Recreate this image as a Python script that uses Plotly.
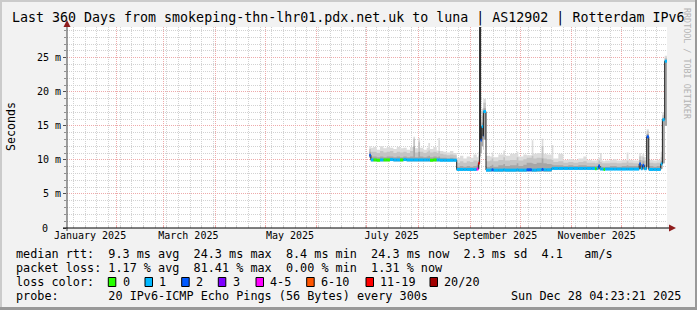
import plotly.graph_objects as go

# ---------------- data ----------------
title_text = "Last 360 Days from smokeping-thn-lhr01.pdx.net.uk to luna | AS12902 | Rotterdam IPv6"
start_time = "2025-01-02 04:23:21"
end_time = "2025-12-28 04:23:21"

times = [
    "2025-07-02 14:00", "2025-07-03 12:00", "2025-07-05", "2025-07-07", "2025-07-09",
    "2025-07-11", "2025-07-13", "2025-07-15", "2025-07-17", "2025-07-19",
    "2025-07-21", "2025-07-23", "2025-07-25", "2025-07-27", "2025-07-29",
    "2025-07-30", "2025-08-01", "2025-08-02", "2025-08-04", "2025-08-06",
    "2025-08-07", "2025-08-08", "2025-08-10", "2025-08-12", "2025-08-13",
    "2025-08-14", "2025-08-16", "2025-08-18", "2025-08-20", "2025-08-22",
    "2025-08-24", "2025-08-26", "2025-08-28", "2025-08-30", "2025-09-01",
    "2025-09-03", "2025-09-05", "2025-09-06", "2025-09-06 18:00", "2025-09-07 08:00",
    "2025-09-08", "2025-09-08 20:00", "2025-09-09", "2025-09-10 14:00", "2025-09-13",
    "2025-09-14", "2025-09-15", "2025-09-18", "2025-09-21", "2025-09-22",
    "2025-09-25", "2025-09-29", "2025-09-30", "2025-10-03", "2025-10-05",
    "2025-10-08", "2025-10-09", "2025-10-11", "2025-10-14", "2025-10-15",
    "2025-10-17", "2025-10-20", "2025-10-21", "2025-10-24", "2025-10-27",
    "2025-10-30", "2025-11-02", "2025-11-05", "2025-11-08", "2025-11-10",
    "2025-11-13", "2025-11-15", "2025-11-16", "2025-11-17", "2025-11-18",
    "2025-11-19", "2025-11-20", "2025-11-21", "2025-11-24", "2025-11-26",
    "2025-11-28", "2025-12-01", "2025-12-04", "2025-12-05", "2025-12-08",
    "2025-12-11 12:00", "2025-12-12 12:00", "2025-12-13 12:00", "2025-12-14 12:00", "2025-12-16",
    "2025-12-17 06:00", "2025-12-20", "2025-12-22", "2025-12-24 10:00", "2025-12-25 10:00",
    "2025-12-26 19:00", "2025-12-28 04:23:21",
]
median_ms = [
    10.7, 10.0, 10.0, 9.95, 10.0, 10.0, 10.0, 10.05, 10.0, 10.0,
    10.0, 10.05, 10.0, 10.0, 10.0, 10.0, 10.0, 10.0, 10.0, 10.0,
    10.0, 9.95, 10.0, 10.0, 10.0, 9.95, 9.95, 9.95, 9.95, 9.95,
    8.6, 8.6, 8.6, 8.6, 8.6, 8.6, 8.65, 9.5, 32.0, 12.9,
    14.9, 13.5, 17.1, 8.5, 8.5, 8.55, 8.5, 8.5, 8.55, 8.5,
    8.5, 8.55, 8.5, 8.5, 8.55, 8.5, 8.5, 8.55, 8.6, 8.55,
    8.55, 8.75, 8.75, 8.75, 8.75, 8.75, 8.75, 8.75, 8.75, 8.75,
    8.75, 8.7, 8.75, 9.1, 8.65, 8.65, 8.6, 8.65, 8.65, 8.65,
    8.65, 8.65, 8.65, 8.65, 8.65, 9.4, 8.7, 9.2, 8.7, 13.4,
    8.6, 8.6, 8.6, 9.4, 15.9, 24.5, 24.5,
]
loss_idx = [
    2, 1, 0, 0, 1, 0, 0, 1, 1, 1,
    0, 1, 1, 1, 1, 1, 1, 1, 1, 1,
    1, 0, 0, 1, 1, 1, 1, 1, 1, 1,
    1, 1, 1, 1, 1, 1, 4, 6, 2, 2,
    1, 2, 1, 1, 1, 2, 1, 1, 1, 1,
    1, 1, 1, 1, 2, 1, 1, 1, 2, 1,
    1, 1, 1, 1, 1, 1, 1, 1, 1, 1,
    1, 0, 1, 2, 1, 1, 0, 1, 1, 1,
    1, 1, 1, 1, 1, 2, 1, 2, 1, 2,
    1, 1, 1, 1, 1, 1, 1,
]
ping_min_ms = [
    10.3, 9.8, 9.8, 9.8, 9.8, 9.8, 9.8, 9.85, 9.8, 9.8,
    9.8, 9.85, 9.8, 9.8, 9.8, 9.8, 9.8, 9.8, 9.8, 9.8,
    9.8, 9.8, 9.8, 9.8, 9.8, 9.8, 9.8, 9.8, 9.8, 9.8,
    8.45, 8.45, 8.45, 8.45, 8.45, 8.45, 8.5, 8.7, 10.5, 11.0,
    12.0, 11.5, 13.0, 8.3, 8.3, 8.35, 8.3, 8.3, 8.3, 8.3,
    8.3, 8.3, 8.3, 8.3, 8.35, 8.3, 8.3, 8.3, 8.35, 8.3,
    8.3, 8.55, 8.55, 8.55, 8.55, 8.55, 8.55, 8.55, 8.55, 8.55,
    8.55, 8.55, 8.55, 8.6, 8.5, 8.5, 8.5, 8.5, 8.5, 8.5,
    8.5, 8.5, 8.5, 8.5, 8.5, 8.7, 8.5, 8.6, 8.5, 9.0,
    8.45, 8.45, 8.45, 8.7, 9.5, 15.0, 15.0,
]
ping_p75_ms = [
    11.2, 10.5, 10.5, 10.4, 10.5, 10.4, 10.5, 10.5, 10.4, 10.5,
    10.4, 10.5, 10.4, 10.5, 12.0, 10.4, 11.2, 10.5, 10.4, 10.5,
    10.6, 10.4, 10.5, 10.4, 10.5, 10.3, 10.3, 10.2, 10.3, 10.2,
    9.0, 9.1, 9.0, 9.1, 9.0, 9.1, 9.2, 10.0, 14.0, 13.8,
    15.5, 14.5, 17.6, 9.0, 9.1, 9.3, 9.0, 9.2, 9.4, 9.1,
    9.2, 9.5, 9.1, 9.3, 9.6, 9.5, 9.4, 9.6, 10.2, 9.5,
    9.4, 9.3, 9.2, 9.2, 9.1, 9.2, 9.1, 9.2, 9.2, 9.1,
    9.1, 9.1, 9.1, 9.4, 9.1, 9.0, 9.0, 9.0, 9.1, 9.1,
    9.0, 9.1, 9.2, 9.1, 9.1, 10.0, 9.3, 9.8, 9.3, 13.8,
    9.1, 9.0, 9.1, 9.8, 16.2, 24.7, 24.7,
]
ping_p90_ms = [
    11.6, 11.2, 11.2, 11.0, 11.3, 11.1, 11.2, 11.3, 11.0, 11.2,
    11.1, 11.2, 11.0, 11.3, 13.1, 11.1, 12.6, 11.2, 11.0, 11.2,
    11.4, 11.1, 11.2, 11.0, 11.3, 10.9, 10.8, 10.7, 10.8, 10.7,
    9.6, 9.8, 9.6, 9.8, 9.7, 9.9, 9.8, 10.6, 16.0, 15.0,
    16.5, 15.5, 18.4, 9.8, 9.9, 10.2, 9.8, 10.0, 10.4, 9.9,
    10.0, 10.4, 9.9, 10.1, 10.3, 10.6, 10.2, 10.3, 12.0, 10.2,
    10.1, 10.0, 9.7, 9.8, 9.6, 9.7, 9.6, 9.7, 9.8, 9.6,
    9.6, 9.5, 9.6, 9.9, 9.7, 9.5, 9.5, 9.5, 9.6, 9.6,
    9.5, 9.6, 9.8, 9.6, 9.5, 10.5, 10.0, 10.4, 9.9, 14.2,
    9.6, 9.5, 9.6, 10.4, 16.6, 25.0, 25.0,
]
ping_max_ms = [
    12.0, 11.8, 11.9, 11.5, 12.0, 11.7, 11.9, 11.8, 11.6, 11.9,
    11.7, 11.8, 11.5, 11.9, 13.4, 11.7, 13.2, 11.8, 11.5, 11.8,
    12.5, 11.6, 11.9, 11.4, 13.2, 11.3, 11.2, 11.1, 11.3, 11.0,
    10.3, 10.6, 10.2, 10.5, 10.3, 10.8, 10.4, 11.2, 17.5, 16.0,
    17.5, 16.5, 19.0, 10.6, 10.5, 11.1, 10.4, 10.8, 11.4, 10.6,
    10.9, 11.2, 10.5, 10.8, 10.7, 12.9, 10.9, 11.0, 13.1, 10.9,
    10.8, 12.2, 10.2, 10.9, 10.0, 10.1, 10.0, 10.2, 10.5, 10.0,
    9.9, 9.9, 10.0, 10.3, 11.0, 9.9, 9.8, 9.9, 10.0, 10.1,
    9.9, 10.0, 11.1, 10.0, 9.9, 11.0, 10.6, 10.9, 10.4, 14.5,
    10.0, 9.9, 10.0, 11.2, 17.0, 25.3, 25.3,
]

loss_labels = ["0", "1", "2", "3", "4-5", "6-10", "11-19", "20/20"]
loss_colors = ["#26ff00", "#00b8ff", "#0059ff", "#7e00ff", "#ff00ff", "#ff5500", "#ff0000", "#a10000"]

y_tick_vals = [0, 5, 10, 15, 20, 25]
y_tick_text = ["0", "5 m", "10 m", "15 m", "20 m", "25 m"]
x_tick_dates = ["2025-01-16", "2025-03-16", "2025-05-16", "2025-07-16", "2025-09-16", "2025-11-16"]
x_tick_text = ["January 2025", "March 2025", "May 2025", "July 2025", "September 2025", "November 2025"]

stats_lines = [
    "median rtt:  9.3 ms avg  24.3 ms max  8.4 ms min  24.3 ms now  2.3 ms sd  4.1   am/s",
    "packet loss: 1.17 % avg  81.41 % max  0.00 % min  1.31 % now",
    "loss color:",
    "probe:       20 IPv6-ICMP Echo Pings (56 Bytes) every 300s",
]
stamp_text = "Sun Dec 28 04:23:21 2025"
y_title = "Seconds"
watermark = "RRDTOOL / TOBI OETIKER"

# ---------------- layout helpers ----------------
W, H = 697, 310
ML, MR, MT, MB = 67, 30, 27, 82
PW, PH = W - ML - MR, H - MT - MB
MONO = "DejaVu Sans Mono"
GRID = "#d2d2d2"
MGRID = "#eeaaaa"
DOTS = "1px,1px"


def px(x):
    return (x - ML) / PW


def py(y):
    return (H - MB - y) / PH


def nb(s):
    return s.replace(" ", "\u00a0")


fig = go.Figure()

# smoke (ping distribution) as stacked grey bands
for upper, col in [(ping_max_ms, "#dcdcdc"), (ping_p90_ms, "#c4c4c4"), (ping_p75_ms, "#a6a6a6")]:
    fig.add_trace(go.Scatter(x=times, y=ping_min_ms, mode="lines", line=dict(width=0, shape="hv"),
                             hoverinfo="skip", showlegend=False))
    fig.add_trace(go.Scatter(x=times, y=upper, mode="lines", line=dict(width=0, shape="hv"),
                             fill="tonexty", fillcolor=col, hoverinfo="skip", showlegend=False))

# median line (thin dark)
fig.add_trace(go.Scatter(x=times, y=median_ms, mode="lines",
                         line=dict(color="#202020", width=1, shape="hv"),
                         hoverinfo="skip", showlegend=False))

# median coloured by loss
for c, col in enumerate(loss_colors):
    xs, ys = [], []
    for i in range(len(times) - 1):
        if loss_idx[i] == c:
            xs += [times[i], times[i + 1], None]
            ys += [median_ms[i], median_ms[i], None]
    if xs:
        fig.add_trace(go.Scatter(x=xs, y=ys, mode="lines", line=dict(color=col, width=3),
                                 hoverinfo="skip", showlegend=False, connectgaps=False))

# carrier trace for label axis
fig.add_trace(go.Scatter(x=x_tick_dates, y=[None] * len(x_tick_dates), xaxis="x2",
                         mode="markers", hoverinfo="skip", showlegend=False))

# the "0" label sits in the digit column (rrdtool pads it); it is placed separately below
axis_tick_text = ["" if v == 0 else nb(t) for v, t in zip(y_tick_vals, y_tick_text)]

fig.update_layout(
    width=W, height=H,
    margin=dict(l=ML, r=MR, t=MT, b=MB, pad=0),
    paper_bgcolor="#f2f2f2", plot_bgcolor="#ffffff",
    showlegend=False,
    xaxis=dict(type="date", range=[start_time, end_time], tick0="2025-01-01", dtick="M1",
               showgrid=True, gridcolor=MGRID, griddash=DOTS, gridwidth=1,
               showticklabels=False, ticks="inside", ticklen=3, tickcolor=MGRID,
               showline=False, zeroline=False, fixedrange=True,
               minor=dict(dtick=7 * 86400000, tick0="2025-01-06", showgrid=True, gridcolor=GRID,
                          griddash=DOTS, ticks="inside", ticklen=2, tickcolor=GRID)),
    xaxis2=dict(type="date", overlaying="x", anchor="y", side="bottom",
                range=[start_time, end_time], tickmode="array", tickvals=x_tick_dates,
                ticktext=x_tick_text, showgrid=False, ticks="", zeroline=False, showline=False,
                tickfont=dict(family=MONO, size=10, color="#000000"), fixedrange=True),
    yaxis=dict(range=[0, 29.52], tickmode="array", tickvals=y_tick_vals,
               ticktext=axis_tick_text,
               showgrid=True, gridcolor=MGRID, griddash=DOTS, gridwidth=1,
               ticks="outside", ticklen=3, tickcolor="#505050",
               tickfont=dict(family=MONO, size=10, color="#000000"),
               zeroline=False, showline=False, fixedrange=True,
               minor=dict(tick0=0, dtick=1, showgrid=True, gridcolor=GRID, griddash=DOTS,
                          ticks="outside", ticklen=2, tickcolor="#909090")),
)

shapes = []
# frame shading
shapes.append(dict(type="rect", xref="paper", yref="paper", x0=px(0), x1=px(W), y0=py(0), y1=py(2),
                   fillcolor="#cbcbcb", line=dict(width=0), layer="above"))
shapes.append(dict(type="rect", xref="paper", yref="paper", x0=px(0), x1=px(2), y0=py(0), y1=py(H),
                   fillcolor="#cbcbcb", line=dict(width=0), layer="above"))
shapes.append(dict(type="rect", xref="paper", yref="paper", x0=px(W - 2), x1=px(W), y0=py(0), y1=py(H),
                   fillcolor="#999999", line=dict(width=0), layer="above"))
shapes.append(dict(type="rect", xref="paper", yref="paper", x0=px(0), x1=px(W), y0=py(H - 3), y1=py(H),
                   fillcolor="#999999", line=dict(width=0), layer="above"))
# axes
shapes.append(dict(type="line", xref="paper", yref="paper", x0=px(67), x1=px(67), y0=py(231), y1=py(24),
                   line=dict(color="#404040", width=1), layer="above"))
shapes.append(dict(type="line", xref="paper", yref="paper", x0=px(63), x1=px(670), y0=py(228), y1=py(228),
                   line=dict(color="#000000", width=1), layer="above"))
ARROW = "#8f1d1d"
shapes.append(dict(type="path", xref="paper", yref="paper",
                   path=f"M {px(63.5)} {py(27)} L {px(70.5)} {py(27)} L {px(67)} {py(20)} Z",
                   fillcolor=ARROW, line=dict(width=0), layer="above"))
shapes.append(dict(type="path", xref="paper", yref="paper",
                   path=f"M {px(669)} {py(224.5)} L {px(669)} {py(231.5)} L {px(676)} {py(228)} Z",
                   fillcolor=ARROW, line=dict(width=0), layer="above"))

annotations = []
# zero tick label, in the digit column of the other labels
annotations.append(dict(text=y_tick_text[0], xref="paper", yref="y", x=px(48), y=y_tick_vals[0],
                        xanchor="right", yanchor="middle", showarrow=False, borderpad=0, borderwidth=0,
                        font=dict(family=MONO, size=10, color="#000000")))
annotations.append(dict(text=nb(title_text), xref="paper", yref="paper", x=px(12), y=py(18.5),
                        xanchor="left", yanchor="middle", showarrow=False, borderpad=0, borderwidth=0,
                        font=dict(family=MONO, size=13.3, color="#000000")))
annotations.append(dict(text=y_title, xref="paper", yref="paper", x=px(11), y=py(127),
                        xanchor="center", yanchor="middle", textangle=-90, showarrow=False,
                        borderpad=0, borderwidth=0, font=dict(family=MONO, size=11.6, color="#000000")))
annotations.append(dict(text=nb(watermark), xref="paper", yref="paper", x=px(687.5), y=py(63.5),
                        xanchor="center", yanchor="middle", textangle=90, showarrow=False,
                        borderpad=0, borderwidth=0, font=dict(family=MONO, size=8.4, color="#b4b4b4")))
line_y = [254, 268, 282, 296]
for s, yy in zip(stats_lines, line_y):
    annotations.append(dict(text=nb(s), xref="paper", yref="paper", x=px(16), y=py(yy),
                            xanchor="left", yanchor="middle", showarrow=False, borderpad=0, borderwidth=0,
                            font=dict(family=MONO, size=11.8, color="#000000")))
annotations.append(dict(text=nb(stamp_text), xref="paper", yref="paper", x=px(681), y=py(296),
                        xanchor="right", yanchor="middle", showarrow=False, borderpad=0, borderwidth=0,
                        font=dict(family=MONO, size=11.8, color="#000000")))

box_x = [108.3, 145, 181.7, 218.3, 256, 306.7, 366, 430]
for bx, lab, col in zip(box_x, loss_labels, loss_colors):
    shapes.append(dict(type="rect", xref="paper", yref="paper", x0=px(bx), x1=px(bx + 7.5),
                       y0=py(286.5), y1=py(277.5), fillcolor=col, line=dict(color="#000000", width=1),
                       layer="above"))
    annotations.append(dict(text=nb(lab), xref="paper", yref="paper", x=px(bx + 14.3), y=py(282),
                            xanchor="left", yanchor="middle", showarrow=False, borderpad=0, borderwidth=0,
                            font=dict(family=MONO, size=11.8, color="#000000")))

fig.update_layout(shapes=shapes, annotations=annotations)
fig.write_html("out.html")
